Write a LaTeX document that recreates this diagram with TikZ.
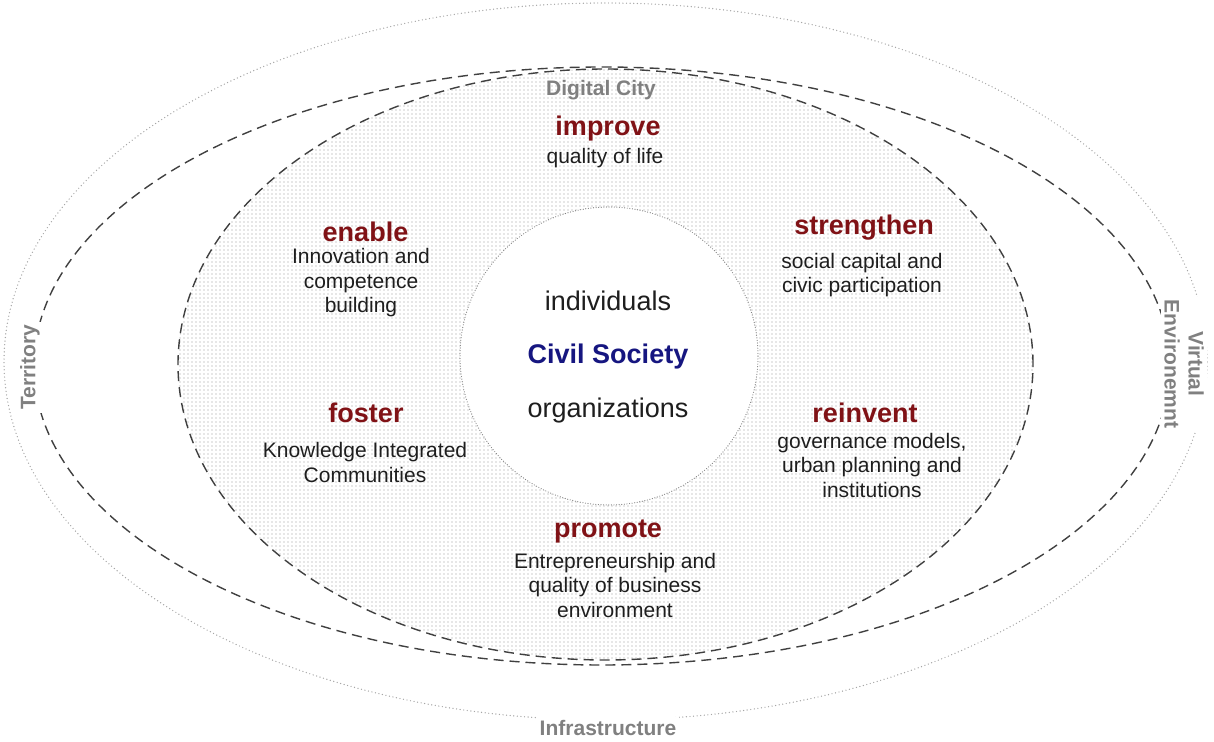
\documentclass[tikz,border=0pt]{standalone}
\usepackage{fontspec}
\setmainfont{Liberation Sans}
\usetikzlibrary{patterns.meta}
\definecolor{verbred}{RGB}{128,18,22}
\definecolor{civilblue}{RGB}{22,22,128}
\definecolor{labelgray}{RGB}{128,128,128}
\definecolor{bodyink}{RGB}{30,30,30}
\begin{document}
\begin{tikzpicture}[x=0.5pt,y=-0.5pt,
  verb/.style={font=\fontsize{13.5}{16}\selectfont\bfseries, text=verbred, inner sep=0pt},
  body/.style={font=\fontsize{10.5}{12.25}\selectfont, text=bodyink, align=center, inner sep=0pt},
  core/.style={font=\fontsize{13.5}{16}\selectfont, text=bodyink, inner sep=0pt},
  layer/.style={font=\fontsize{10.5}{12}\selectfont\bfseries, text=labelgray, align=center, fill=white, inner sep=1.5pt},
  ring/.style={draw=black!75, line width=0.7pt, dash pattern=on 5pt off 3pt},
]
\useasboundingbox (0,0) rectangle (1214,742);

% outer dotted boundary (territory / virtual environment / infrastructure)
\draw[gray!70, line width=0.7pt, line cap=round, dash pattern=on 0pt off 1.8pt]
  (605.5,361.5) ellipse [x radius=300.75pt, y radius=179.25pt];
% middle dashed ring
\draw[ring] (602,366) ellipse [x radius=284pt, y radius=149.5pt];
% digital city area, dotted texture
\draw[ring, pattern={Dots[distance=2pt, radius=0.3pt]}, pattern color=gray!80]
  (605.5,364.5) ellipse [x radius=213.75pt, y radius=147.75pt];
% civil society core
\draw[fill=white, draw=gray, line width=0.6pt, line cap=round, dash pattern=on 0pt off 1.3pt]
  (609,356) circle [radius=74.5pt];

% layer labels
\node[layer, fill=none] (digital) at (601,90) {Digital City};
\node[layer, rotate=90] (territory) at (30,367.5) {Territory};
\node[layer, rotate=-90] (virtual) at (1184,364) {Virtual\\Environemnt};
\node[layer] (infra) at (608,728) {Infrastructure};

% core
\node[core] (indiv) at (608,301) {individuals};
\node[core, font=\fontsize{13.5}{16}\selectfont\bfseries, text=civilblue] (civil) at (608,357) {Civil Society};
\node[core] (orgs) at (608,411) {organizations};

% actions
\node[verb] (improve) at (608,129) {improve};
\node[body] (improveT) at (605,158) {quality of life};

\node[verb] (enable) at (365.5,232) {enable};
\node[body] (enableT) at (361,283) {Innovation and\\competence\\building};

\node[verb] (strengthen) at (864,228) {strengthen};
\node[body] (strengthenT) at (862,275) {social capital and\\civic participation};

\node[verb] (foster) at (366,413) {foster};
\node[body] (fosterT) at (365,462.5) {Knowledge Integrated\\Communities};

\node[verb] (reinvent) at (865,413) {reinvent};
\node[body] (reinventT) at (872,465) {governance models,\\urban planning and\\institutions};

\node[verb] (promote) at (608,531) {promote};
\node[body] (promoteT) at (615,585) {Entrepreneurship and\\quality of business\\environment};
\end{tikzpicture}
\end{document}
